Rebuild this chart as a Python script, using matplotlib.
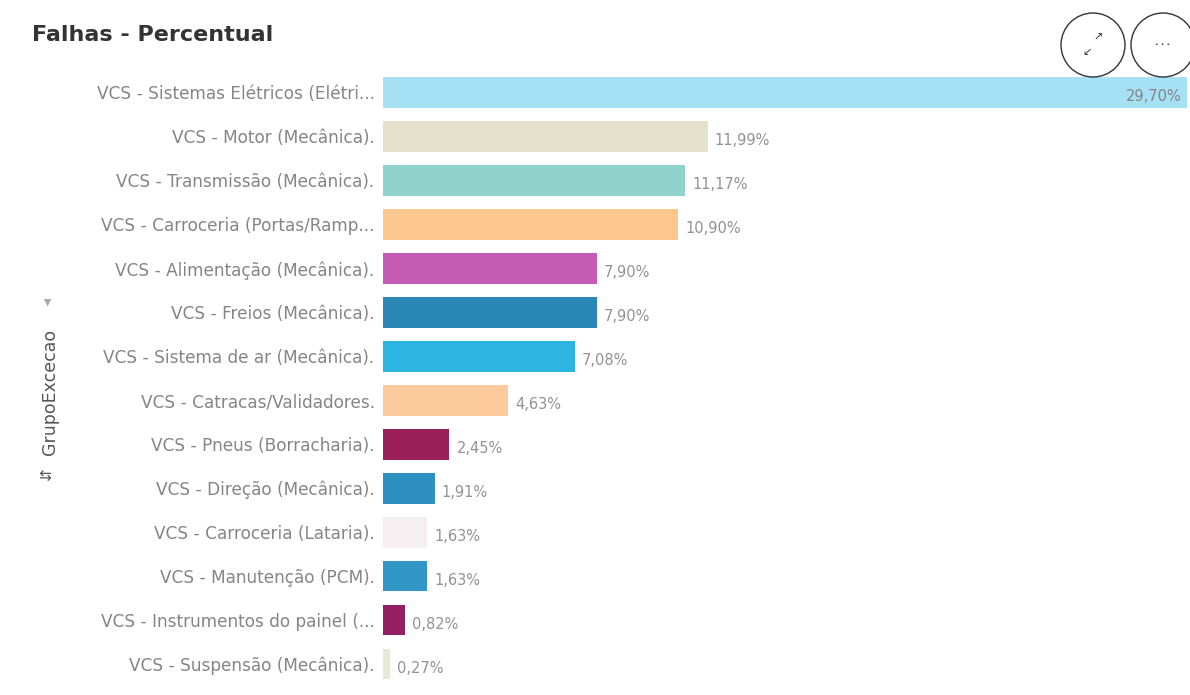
import matplotlib
matplotlib.use("Agg")
import matplotlib.pyplot as plt
from matplotlib.patches import Circle

# categories and values (percent)
categorias = [
    "VCS - Sistemas Elétricos (Elétri...",
    "VCS - Motor (Mecânica).",
    "VCS - Transmissão (Mecânica).",
    "VCS - Carroceria (Portas/Ramp...",
    "VCS - Alimentação (Mecânica).",
    "VCS - Freios (Mecânica).",
    "VCS - Sistema de ar (Mecânica).",
    "VCS - Catracas/Validadores.",
    "VCS - Pneus (Borracharia).",
    "VCS - Direção (Mecânica).",
    "VCS - Carroceria (Lataria).",
    "VCS - Manutenção (PCM).",
    "VCS - Instrumentos do painel (...",
    "VCS - Suspensão (Mecânica).",
]
percentuais = [29.70, 11.99, 11.17, 10.90, 7.90, 7.90, 7.08, 4.63, 2.45, 1.91, 1.63, 1.63, 0.82, 0.27]
cores = ["#a6e0f4", "#e5e1cd", "#92d2cd", "#fcc88e", "#c45bb4", "#2c87b9",
         "#2db5e1", "#fcca9c", "#9a1f58", "#2e90c2", "#f6eff1", "#2f96c6",
         "#931f60", "#ece8d6"]

plt.rcParams['font.family'] = ['DejaVu Sans']

W, H = 1190, 695
fig = plt.figure(figsize=(W / 100, H / 100), dpi=100)
ax = fig.add_axes([383 / W, 1 - 686 / H, 805 / W, (686 - 70.5) / H])

y = list(range(len(categorias)))
ax.barh(y, percentuais, height=0.7, color=cores)
ax.set_xlim(0, percentuais[0] * 1.001)
ax.set_ylim(len(categorias) - 0.5, -0.5)

ax.set_yticks(y)
ax.set_yticklabels(categorias, fontsize=12.2, color="#858585")
ax.tick_params(axis="y", length=0, pad=6)
ax.set_xticks([])
for s in ax.spines.values():
    s.set_visible(False)

# value labels
for i, v in enumerate(percentuais):
    txt = f"{v:.2f}%".replace(".", ",")
    if i == 0:
        ax.text(v - 0.2, i + 0.1, txt, ha="right", va="center", fontsize=10.5, color="#858585")
    else:
        ax.text(v + 0.26, i + 0.1, txt, ha="left", va="center", fontsize=10.5, color="#929292")

# title
fig.text(32 / W, 1 - 35 / H, "Falhas - Percentual", fontsize=16, fontweight="bold",
         color="#333333", ha="left", va="center")

# axis label with small icons
fig.text(50 / W, 1 - 392 / H, "GrupoExcecao", rotation=90, fontsize=12.5,
         color="#555555", ha="center", va="center")
fig.text(47 / W, 1 - 302 / H, "▶", fontsize=7, color="#aaaaaa", ha="center", va="center",
         rotation=-90)
fig.text(48 / W, 1 - 475 / H, "⇵", fontsize=11, color="#555555", ha="center", va="center",
         rotation=90)

# buttons in the corner (circles kept round in inches)
for cx, cy in [(1093, 45), (1163, 45)]:
    fig.patches.append(Circle((cx / 100, (H - cy) / 100), 0.32, transform=fig.dpi_scale_trans,
                              facecolor="none", edgecolor="#333333", linewidth=1.0, zorder=5))
fig.text(1098 / W, 1 - 38 / H, "↗", fontsize=8, color="#333333", ha="center", va="center")
fig.text(1087 / W, 1 - 52 / H, "↙", fontsize=8, color="#333333", ha="center", va="center")
fig.text(1163 / W, 1 - 45 / H, "• • •", fontsize=4.5, color="#333333", ha="center", va="center")

fig.savefig("out.png", dpi=100)
